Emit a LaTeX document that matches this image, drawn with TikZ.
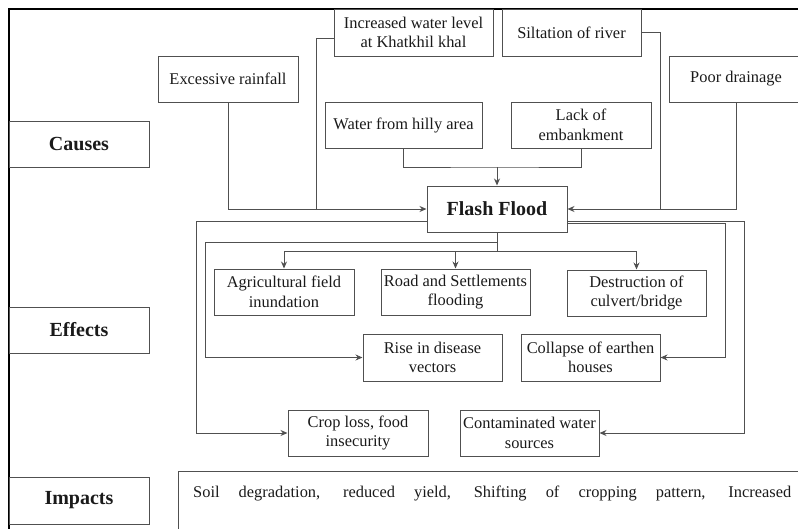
\documentclass[tikz,border=0pt]{standalone}
\usepackage{fontspec}
\setmainfont{Liberation Serif}
\usetikzlibrary{arrows.meta}
\definecolor{ln}{HTML}{505050}
\definecolor{tx}{HTML}{1A1A1A}
\tikzset{
  bx/.style={draw=ln, line width=1pt, inner sep=0pt, align=center, text=tx,
    font=\fontsize{16.4}{19.5}\selectfont},
  hd/.style={bx, font=\fontsize{20}{24}\selectfont\bfseries},
  cn/.style={draw=ln, line width=1pt},
  ar/.style={cn, -{Stealth[length=7pt,width=6pt]}}
}
\begin{document}
\begin{tikzpicture}[x=1pt,y=-1pt]
\useasboundingbox (0,0) rectangle (798,528);
% frame
\draw[line width=2pt, black] (9,540) -- (9,9) -- (810,9);
% category boxes
\node[hd, minimum width=140pt, minimum height=46pt] (causes) at (79,144) {Causes};
\node[hd, minimum width=140pt, minimum height=46pt] (effects) at (79,330) {Effects};
\node[hd, minimum width=140pt, minimum height=47pt] (impacts) at (79,500.5) {Impacts};
% causes
\node[bx, minimum width=140pt, minimum height=46pt] (exc) at (228,79) {Excessive rainfall};
\node[bx, minimum width=159pt, minimum height=47pt] (inc) at (413.5,32.5) {Increased water level\\at Khatkhil khal};
\node[bx, minimum width=139pt, minimum height=47pt] (sil) at (571.5,32.5) {Siltation of river};
\node[bx, minimum width=134pt, minimum height=46pt] (pd) at (736,79) {Poor drainage};
\node[bx, minimum width=157pt, minimum height=46pt] (wat) at (403.5,125) {Water from hilly area};
\node[bx, minimum width=140pt, minimum height=46pt] (lack) at (581,125) {Lack of\\embankment};
\node[hd, minimum width=140pt, minimum height=46pt] (ff) at (497,209) {Flash Flood};
% effects
\node[bx, minimum width=140pt, minimum height=46pt] (agri) at (284,292) {Agricultural field\\inundation};
\node[bx, minimum width=149pt, minimum height=46pt] (road) at (455.5,292) {Road and Settlements\\flooding};
\node[bx, minimum width=139pt, minimum height=46pt] (des) at (636.5,293) {Destruction of\\culvert/bridge};
\node[bx, minimum width=139pt, minimum height=47pt] (rise) at (432.5,357.5) {Rise in disease\\vectors};
\node[bx, minimum width=139pt, minimum height=47pt] (col) at (590.5,357.5) {Collapse of earthen\\houses};
\node[bx, minimum width=140pt, minimum height=46pt] (crop) at (358,433) {Crop loss, food\\insecurity};
\node[bx, minimum width=139pt, minimum height=46pt] (cont) at (529.5,433) {Contaminated water\\sources};
% impacts text box
\draw[cn] (178,471) rectangle (830,560);
\node[anchor=base west, inner sep=0pt, text=tx, font=\fontsize{16.4}{19.5}\selectfont] (imp) at (193,497)
  {\makebox[598pt][s]{Soil degradation, reduced yield, Shifting of cropping pattern, Increased}};
% cause connectors
\coordinate (jL) at (316,209);
\coordinate (jR) at (660,209);
\coordinate (jT) at (497,167);
\draw[ar] (exc.south) |- (ff.west);
\draw[cn] ([yshift=-5.5pt]inc.west) -| (jL);
\draw[cn] (sil.east) -| (jR);
\draw[ar] (pd.south) |- (ff.east);
\draw[cn] (wat.south) |- (jT) -| (lack.south);
\draw[ar] (jT) -- (ff.north);
% effect connectors
\coordinate (b) at (497,251);
\coordinate (b2) at (497,242);
\coordinate (rL) at (205,357.5);
\coordinate (cL) at (196,433);
\coordinate (cR) at (744,433);
\coordinate (kR) at (725,357.5);
\draw[cn] (ff.south) -- (b);
\draw[ar] (b) -| (agri.north);
\draw[ar] (b) -| (des.north);
\draw[ar] (road.north |- b) -- (road.north);
\draw[ar] (b2) -| (rL) -- (rise.west);
\draw[ar] ([yshift=-12pt]ff.west) -| (cL) -- (crop.west);
\draw[ar] ([yshift=-12pt]ff.east) -| (cR) -- (cont.east);
\draw[ar] ([yshift=-14pt]ff.east) -| (kR) -- (col.east);
\end{tikzpicture}
\end{document}
